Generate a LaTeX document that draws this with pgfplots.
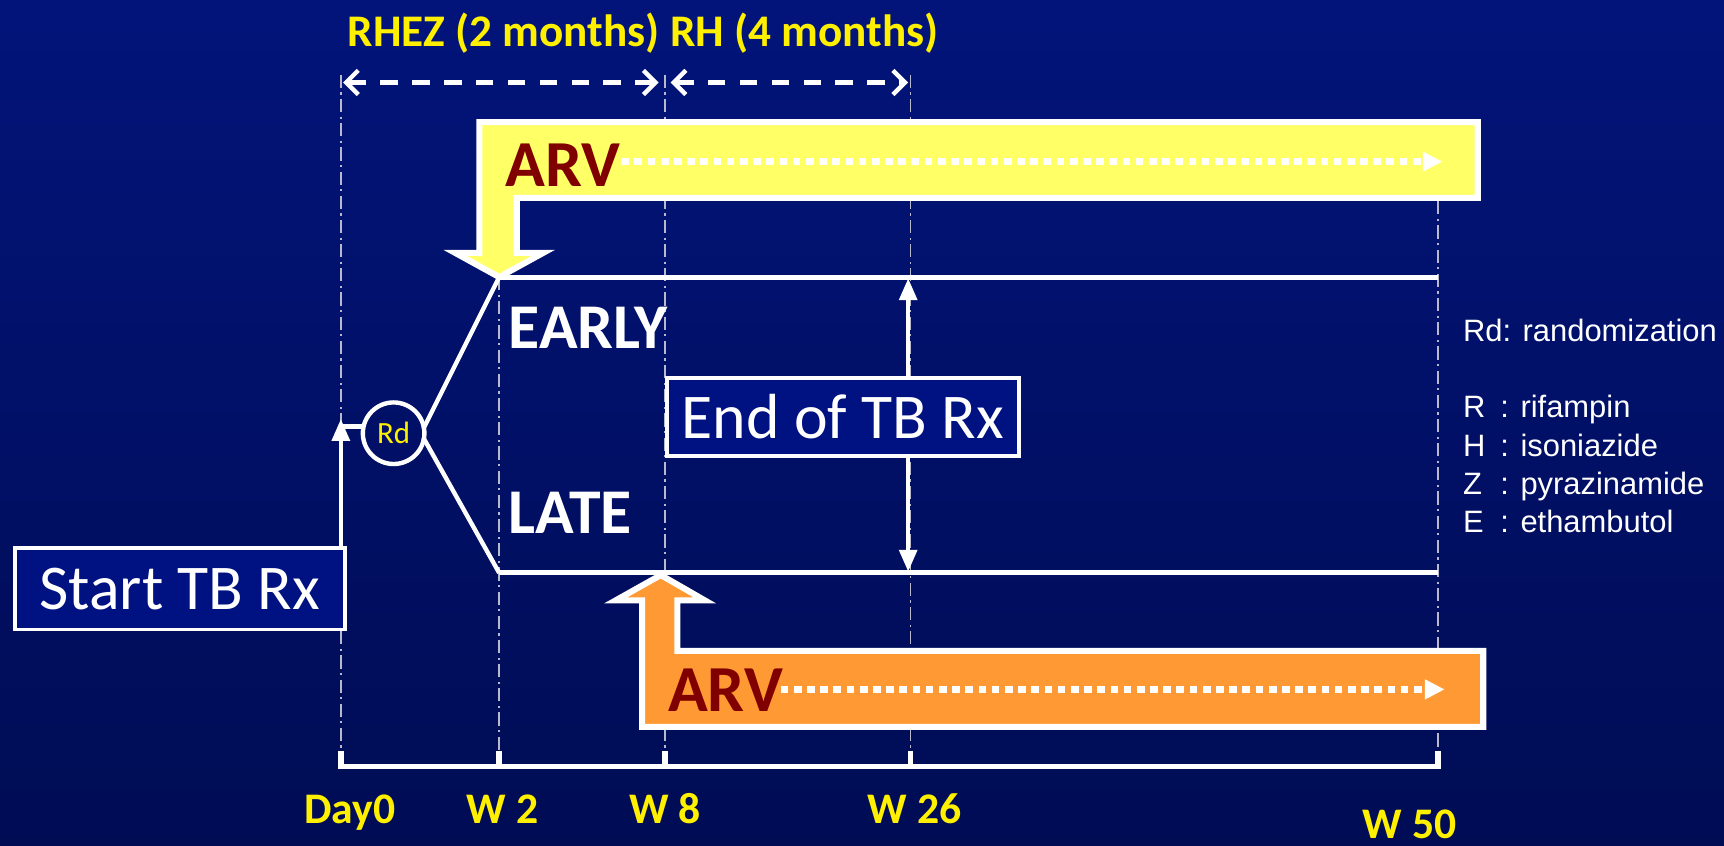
\documentclass[border=0pt]{standalone}
\usepackage{fontspec}
\setmainfont{Carlito}
\newfontfamily\arial{Liberation Sans}
\usepackage{pgfplots}
\pgfplotsset{compat=1.18}
\usetikzlibrary{arrows.meta}
\definecolor{bgtop}{RGB}{2,20,122}
\definecolor{bgbot}{RGB}{0,12,84}
\definecolor{boxblue}{RGB}{0,18,130}
\definecolor{ylw}{RGB}{255,240,0}
\definecolor{arvy}{RGB}{255,255,102}
\definecolor{arvo}{RGB}{255,153,51}
\definecolor{darkred}{RGB}{128,0,0}
\definecolor{guide}{RGB}{185,185,205}
\newcommand{\fs}[1]{\fontsize{#1}{#1}\selectfont}
\begin{document}
\begin{tikzpicture}
\begin{axis}[
  width=15.68cm, height=7.69cm, scale only axis,
  xmin=0, xmax=1568, ymin=0, ymax=769, y dir=reverse,
  axis lines=none, clip=false,
  every axis plot/.append style={no markers, line join=miter},
]
% background
\addplot[draw=none, top color=bgtop, bottom color=bgbot] coordinates {(0,0)(1568,0)(1568,769)(0,769)} -- cycle;
% guide lines
\pgfplotsset{guidestyle/.style={guide, line width=0.15mm, dash pattern=on 1.2mm off 0.4mm on 0.2mm off 0.4mm}}
\addplot[guidestyle] coordinates {(310,68)(310,690)};
\addplot[guidestyle] coordinates {(454,252)(454,690)};
\addplot[guidestyle] coordinates {(605,68)(605,690)};
\addplot[guidestyle] coordinates {(828,68)(828,690)};
\addplot[guidestyle] coordinates {(1308,183)(1308,690)};
% dashed period arrows
\addplot[white, line width=0.4mm, dash pattern=on 1.6mm off 1.3mm,
  {Straight Barb[length=1.1mm,width=2.2mm,line width=0.4mm]}-{Straight Barb[length=1.1mm,width=2.2mm,line width=0.4mm]}]
  coordinates {(312,75)(599,75)};
\addplot[white, line width=0.4mm, dash pattern=on 1.6mm off 1.3mm,
  {Straight Barb[length=1.1mm,width=2.2mm,line width=0.4mm]}-{Straight Barb[length=1.1mm,width=2.2mm,line width=0.4mm]}]
  coordinates {(610,75)(826,75)};
% EARLY / LATE arms
\addplot[white, line width=0.45mm] coordinates {(454,252)(1308,252)};
\addplot[white, line width=0.45mm] coordinates {(454,521)(1308,521)};
\addplot[white, line width=0.4mm] coordinates {(385,390)(454,252)};
\addplot[white, line width=0.4mm] coordinates {(385,398)(454,521)};
% start arrow
\addplot[white, line width=0.4mm, -{Triangle[length=2mm,width=1.6mm]}] coordinates {(310,497)(310,381)};
\addplot[white, line width=0.4mm] coordinates {(308,388)(331,388)};
% end of TB arrows
\addplot[white, line width=0.4mm, -{Triangle[length=2mm,width=1.6mm]}] coordinates {(826,342)(826,253)};
\addplot[white, line width=0.4mm, -{Triangle[length=2mm,width=1.6mm]}] coordinates {(826,416)(826,520)};
% ARV boxes
\addplot[draw=white, fill=arvy, line width=0.55mm] coordinates {(436,111)(1344,111)(1344,180)(470,180)(470,230)(494,230)(454,252)(414,230)(436,230)} -- cycle;
\addplot[draw=white, fill=arvo, line width=0.55mm] coordinates {(584,661)(584,546)(560,546)(601,523)(641,546)(616,546)(616,592)(1349,592)(1349,661)} -- cycle;
\addplot[white, line width=0.6mm, dash pattern=on 0.7mm off 0.5mm, -{Triangle[length=1.8mm,width=1.7mm]}] coordinates {(565,147)(1312,147)};
\addplot[white, line width=0.6mm, dash pattern=on 0.7mm off 0.5mm, -{Triangle[length=1.8mm,width=1.7mm]}] coordinates {(710,627)(1314,627)};
\node[text=darkred, font=\bfseries\fs{17}, anchor=west, inner sep=0] at (axis cs:459,150) {ARV};
\node[text=darkred, font=\bfseries\fs{17}, anchor=west, inner sep=0] at (axis cs:607,628) {ARV};
% time axis
\addplot[white, line width=0.5mm] coordinates {(310,683)(310,697)(1308,697)(1308,683)};
\addplot[white, line width=0.5mm] coordinates {(454,683)(454,697)};
\addplot[white, line width=0.5mm] coordinates {(605,683)(605,697)};
\addplot[white, line width=0.5mm] coordinates {(828,683)(828,697)};
% text
\node[text=ylw, font=\bfseries\fs{11.7}, inner sep=0] at (axis cs:585,30) {RHEZ (2 months) RH (4 months)};
\node[text=white, font=\bfseries\fs{16.5}, anchor=west, inner sep=0] at (axis cs:462,298) {EARLY};
\node[text=white, font=\bfseries\fs{16.5}, anchor=west, inner sep=0] at (axis cs:462,466) {LATE};
\node[draw=white, line width=0.4mm, circle, minimum size=5.6mm, inner sep=0, text=ylw, font=\fs{8}] at (axis cs:358,394) {Rd};
\node[draw=white, fill=boxblue, line width=0.35mm, minimum width=30mm, minimum height=7.4mm, text=white, font=\fs{16.5}, inner sep=0] at (axis cs:163.5,535.5) {Start TB Rx};
\node[draw=white, fill=boxblue, line width=0.35mm, minimum width=32mm, minimum height=7.1mm, text=white, font=\fs{16.5}, inner sep=0] at (axis cs:766.5,379) {End of TB Rx};
\node[text=ylw, font=\bfseries\fs{11.3}, inner sep=0, anchor=base] at (axis cs:318,749) {Day0};
\node[text=ylw, font=\bfseries\fs{11.3}, inner sep=0, anchor=base] at (axis cs:457,749) {W 2};
\node[text=ylw, font=\bfseries\fs{11.3}, inner sep=0, anchor=base] at (axis cs:605,749) {W 8};
\node[text=ylw, font=\bfseries\fs{11.3}, inner sep=0, anchor=base] at (axis cs:832,749) {W 26};
\node[text=ylw, font=\bfseries\fs{11.3}, inner sep=0, anchor=base] at (axis cs:1282,763) {W 50};
% legend
\node[text=white, font=\arial\fs{8}, anchor=base west, inner sep=0] at (axis cs:1330,311) {Rd: randomization};
\node[text=white, font=\arial\fs{8}, anchor=base west, inner sep=0] at (axis cs:1330,380) {\makebox[3.4mm][l]{R}: rifampin};
\node[text=white, font=\arial\fs{8}, anchor=base west, inner sep=0] at (axis cs:1330,415) {\makebox[3.4mm][l]{H}: isoniazide};
\node[text=white, font=\arial\fs{8}, anchor=base west, inner sep=0] at (axis cs:1330,450) {\makebox[3.4mm][l]{Z}: pyrazinamide};
\node[text=white, font=\arial\fs{8}, anchor=base west, inner sep=0] at (axis cs:1330,484) {\makebox[3.4mm][l]{E}: ethambutol};
\end{axis}
\end{tikzpicture}
\end{document}
